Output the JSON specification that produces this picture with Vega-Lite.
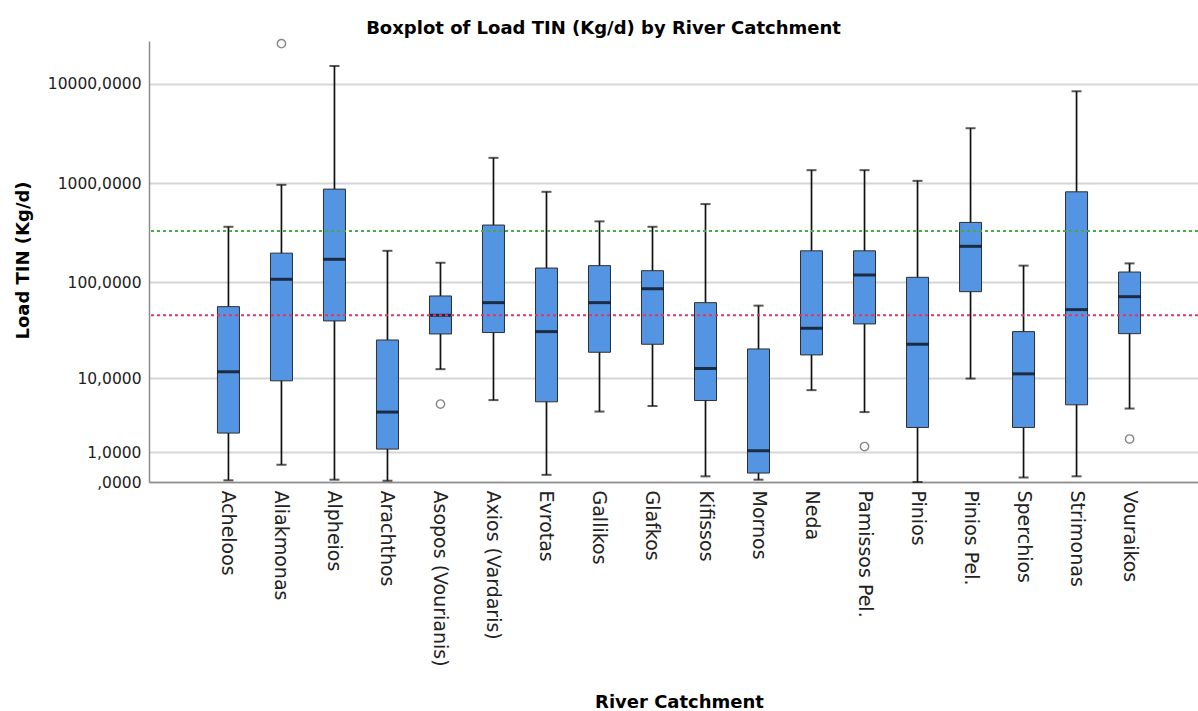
{
  "$schema": "https://vega.github.io/schema/vega-lite/v6.json",
  "width": 1049,
  "height": 441,
  "autosize": {"type": "none"},
  "padding": {"left": 149, "top": 41, "right": 0, "bottom": 229},
  "background": "white",
  "title": {
    "text": "Boxplot of Load TIN (Kg/d) by River Catchment",
    "font": "DejaVu Sans",
    "fontSize": 18,
    "fontWeight": "bold",
    "color": "#000000",
    "anchor": "middle",
    "frame": "group",
    "dx": -70,
    "dy": 25,
    "offset": 10,
    "baseline": "alphabetic"
  },
  "config": {
    "view": {"stroke": null},
    "axis": {
      "labelFont": "DejaVu Sans",
      "titleFont": "DejaVu Sans",
      "labelColor": "#222222",
      "titleColor": "#000000",
      "domainColor": "#8c8c8c",
      "domainWidth": 1.5,
      "ticks": false
    }
  },
  "datasets": {
    "stats": [
      {"river": "Acheloos", "min": 0.04, "q1": 2.10, "median": 11.8, "q3": 56.7, "max": 365},
      {"river": "Aliakmonas", "min": 0.49, "q1": 9.38, "median": 107.7, "q3": 198, "max": 965},
      {"river": "Alpheios", "min": 0.055, "q1": 40.5, "median": 171.6, "q3": 874, "max": 15090},
      {"river": "Arachthos", "min": 0.03, "q1": 1.14, "median": 4.04, "q3": 25.7, "max": 209},
      {"river": "Asopos (Vourianis)", "min": 12.6, "q1": 29.7, "median": 46.3, "q3": 72.9, "max": 158.4},
      {"river": "Axios (Vardaris)", "min": 5.65, "q1": 30.7, "median": 62.3, "q3": 380, "max": 1803},
      {"river": "Evrotas", "min": 0.18, "q1": 5.39, "median": 31.4, "q3": 140, "max": 821},
      {"river": "Gallikos", "min": 4.1, "q1": 19.1, "median": 62.3, "q3": 148, "max": 414},
      {"river": "Glafkos", "min": 4.8, "q1": 23.2, "median": 86.5, "q3": 131.6, "max": 365},
      {"river": "Kifissos", "min": 0.14, "q1": 5.58, "median": 12.8, "q3": 62.3, "max": 618},
      {"river": "Mornos", "min": 0.055, "q1": 0.23, "median": 1.06, "q3": 20.7, "max": 58.1},
      {"river": "Neda", "min": 7.37, "q1": 17.9, "median": 34.0, "q3": 209, "max": 1355},
      {"river": "Pamissos Pel.", "min": 4.04, "q1": 37.7, "median": 119, "q3": 209, "max": 1355},
      {"river": "Pinios", "min": 0, "q1": 2.53, "median": 23.2, "q3": 112.8, "max": 1058},
      {"river": "Pinios Pel.", "min": 9.94, "q1": 80.6, "median": 232, "q3": 404, "max": 3577},
      {"river": "Sperchios", "min": 0.11, "q1": 2.53, "median": 11.2, "q3": 31.4, "max": 148},
      {"river": "Strimonas", "min": 0.14, "q1": 4.96, "median": 52.9, "q3": 821, "max": 8409},
      {"river": "Vouraikos", "min": 4.47, "q1": 29.9, "median": 71.7, "q3": 127.6, "max": 156}
    ],
    "outliers": [
      {"river": "Aliakmonas", "value": 25300},
      {"river": "Asopos (Vourianis)", "value": 5.06},
      {"river": "Pamissos Pel.", "value": 1.27},
      {"river": "Vouraikos", "value": 1.70}
    ],
    "refs": [
      {"line": "upper", "value": 331},
      {"line": "lower", "value": 46.3}
    ]
  },
  "layer": [
    {
      "data": {"name": "stats"},
      "mark": {"type": "rule", "color": "#111111", "strokeWidth": 1.7},
      "encoding": {
        "x": {
          "field": "river",
          "type": "nominal",
          "title": "River Catchment",
          "scale": {
            "domain": ["Acheloos", "Aliakmonas", "Alpheios", "Arachthos", "Asopos (Vourianis)", "Axios (Vardaris)", "Evrotas", "Gallikos", "Glafkos", "Kifissos", "Mornos", "Neda", "Pamissos Pel.", "Pinios", "Pinios Pel.", "Sperchios", "Strimonas", "Vouraikos"],
            "paddingInner": 0,
            "paddingOuter": 0.895,
            "align": 0.558
          },
          "axis": {
            "labelAngle": 90,
            "labelAlign": "left",
            "labelBaseline": "middle",
            "labelFontSize": 19,
            "labelPadding": 8,
            "labelLimit": 300,
            "grid": false,
            "titleFontSize": 18,
            "titleFontWeight": "bold",
            "titleX": 530,
            "titleY": 225,
            "titleAlign": "center",
            "titleBaseline": "alphabetic",
            "titleAnchor": null
          }
        },
        "y": {
          "field": "min",
          "type": "quantitative",
          "title": "Load TIN (Kg/d)",
          "scale": {"type": "symlog", "constant": 1, "domain": [0, 26900], "nice": false, "zero": false},
          "axis": {
            "values": [0, 1, 10, 100, 1000, 10000],
            "labelExpr": "datum.value == 0 ? ',0000' : datum.value + ',0000'",
            "labelFontSize": 15.5,
            "labelPadding": 8,
            "grid": true,
            "gridColor": "#d6d6d6",
            "gridWidth": 2,
            "titleFontSize": 18,
            "titleFontWeight": "bold",
            "titleAngle": -90,
            "titleX": -126,
            "titleY": 219,
            "titleAlign": "center",
            "titleBaseline": "middle",
            "titleAnchor": null
          }
        },
        "y2": {"field": "max"}
      }
    },
    {
      "data": {"name": "stats"},
      "mark": {"type": "tick", "color": "#111111", "thickness": 2, "size": 10},
      "encoding": {
        "x": {"field": "river", "type": "nominal", "title": "River Catchment"},
        "y": {"field": "max", "type": "quantitative", "title": "Load TIN (Kg/d)"}
      }
    },
    {
      "data": {"name": "stats"},
      "mark": {"type": "tick", "color": "#111111", "thickness": 2, "size": 10},
      "encoding": {
        "x": {"field": "river", "type": "nominal", "title": "River Catchment"},
        "y": {"field": "min", "type": "quantitative", "title": "Load TIN (Kg/d)"}
      }
    },
    {
      "data": {"name": "stats"},
      "mark": {"type": "bar", "width": 22, "fill": "#5495e3", "stroke": "#2e2e2e", "strokeWidth": 1},
      "encoding": {
        "x": {"field": "river", "type": "nominal", "title": "River Catchment"},
        "y": {"field": "q1", "type": "quantitative", "title": "Load TIN (Kg/d)"},
        "y2": {"field": "q3"}
      }
    },
    {
      "data": {"name": "stats"},
      "mark": {"type": "tick", "color": "#000000", "thickness": 3, "size": 22},
      "encoding": {
        "x": {"field": "river", "type": "nominal", "title": "River Catchment"},
        "y": {"field": "median", "type": "quantitative", "title": "Load TIN (Kg/d)"}
      }
    },
    {
      "data": {"name": "outliers"},
      "mark": {"type": "point", "shape": "circle", "filled": false, "size": 70, "stroke": "#555555", "strokeWidth": 1.4},
      "encoding": {
        "x": {"field": "river", "type": "nominal", "title": "River Catchment"},
        "y": {"field": "value", "type": "quantitative", "title": "Load TIN (Kg/d)"}
      }
    },
    {
      "data": {"name": "refs"},
      "mark": {"type": "rule", "strokeWidth": 2, "strokeDash": [3, 3]},
      "encoding": {
        "y": {"field": "value", "type": "quantitative", "title": "Load TIN (Kg/d)"},
        "color": {
          "field": "line",
          "type": "nominal",
          "scale": {"domain": ["upper", "lower"], "range": ["#4aa84a", "#e53462"]},
          "legend": null
        }
      }
    }
  ]
}
